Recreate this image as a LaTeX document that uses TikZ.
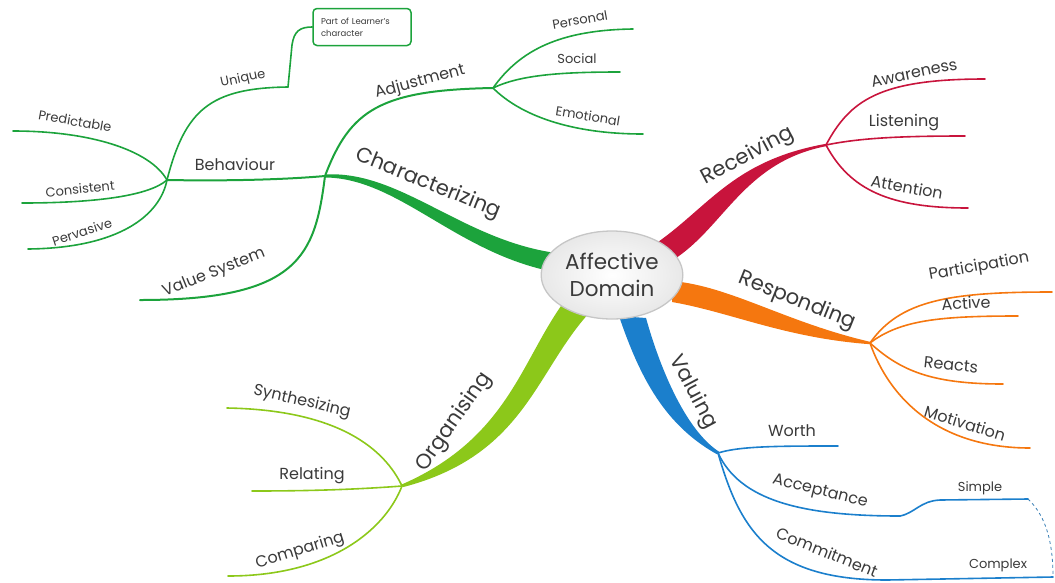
\documentclass[tikz,border=0pt]{standalone}
\usepackage{fontspec}
\setmainfont{Poppins}
\usetikzlibrary{shapes.geometric,calc}
\definecolor{cgreen}{HTML}{1CA33C}
\definecolor{cred}{HTML}{C8143C}
\definecolor{corange}{HTML}{F5770F}
\definecolor{cblue}{HTML}{1B7FCC}
\definecolor{clime}{HTML}{8CC81A}
\definecolor{ctext}{HTML}{3A3A3A}
\begin{document}
\begin{tikzpicture}[x=1pt,y=-1pt,
 big/.style={text=ctext, font=\fontsize{21}{25}\selectfont, inner sep=0pt},
 mid/.style={text=ctext, font=\fontsize{16}{19}\selectfont, inner sep=0pt},
 small/.style={text=ctext, font=\fontsize{13}{15}\selectfont, inner sep=0pt},
 sub/.style={line width=2pt, line cap=round},
 leaf/.style={line width=1.6pt, line cap=round},
]
\useasboundingbox (0,0) rectangle (1055,582);
% hubs
\coordinate (hc) at (325,176);
\coordinate (hb) at (167,180);
\coordinate (ha) at (493,88);
\coordinate (hr) at (826,145);
\coordinate (hp) at (870,343);
\coordinate (hv) at (718,453);
\coordinate (ho) at (402,486);
% leaf ends
\coordinate (lpred) at (13,131);
\coordinate (lcons) at (22,203);
\coordinate (lperv) at (28,249);
\coordinate (luniq) at (288,87);
\coordinate (lvs) at (140,300);
\coordinate (lpers) at (633,29);
\coordinate (lsoc) at (620,72);
\coordinate (lemo) at (643,134);
\coordinate (lawa) at (985,79);
\coordinate (llis) at (965,136);
\coordinate (latt) at (968,208);
\coordinate (lpart) at (1052,292);
\coordinate (lact) at (1018,316);
\coordinate (lreac) at (1003,384);
\coordinate (lmot) at (1030,448);
\coordinate (lworth) at (838,446);
\coordinate (lacc) at (900,516);
\coordinate (lsimp) at (1028,499);
\coordinate (lcomm) at (887,580);
\coordinate (lcmpx) at (1053,577);
\coordinate (lsyn) at (227,408);
\coordinate (lrel) at (252,491);
\coordinate (lcmp) at (228,576);

% ---- thick main branches ----
\fill[cgreen] ($(hc)+(0,-1.5)$) .. controls (400,170) and (462,240) .. (556,253) -- (560,273) .. controls (458,256) and (400,178) .. ($(hc)+(0,1.5)$) -- cycle;
\fill[cred] (658,242) .. controls (710,205) and (735,160) .. ($(hr)+(0,-1.2)$) -- ($(hr)+(0,1.2)$) .. controls (745,162) and (725,225) .. (676,258) -- cycle;
\fill[corange] (672,281) .. controls (730,286) and (785,322) .. ($(hp)+(0,-1.2)$) -- ($(hp)+(0,1.2)$) .. controls (785,338) and (730,312) .. (672,302) -- cycle;
\fill[cblue] (619,316) .. controls (640,378) and (665,425) .. ($(hv)+(-1.5,1)$) -- ($(hv)+(1.5,-1)$) .. controls (688,432) and (662,375) .. (646,318) -- cycle;
\fill[clime] (561,306) .. controls (520,365) and (505,440) .. ($(ho)+(-1.5,-1)$) -- ($(ho)+(1.5,1)$) .. controls (525,455) and (535,372) .. (590,312) -- cycle;

% ---- characterizing sub-branches ----
\begin{scope}[draw=cgreen]
\draw[sub] (hc) .. controls (280,180) and (220,181) .. (hb);
\draw[sub] (hc) .. controls (350,110) and (380,90) .. (ha);
\draw[sub] (hc) .. controls (315,255) and (300,300) .. (lvs);
\draw[leaf] (hb) .. controls (150,150) and (90,131) .. (lpred);
\draw[leaf] (hb) .. controls (150,195) and (100,203) .. (lcons);
\draw[leaf] (hb) .. controls (160,215) and (120,248) .. (lperv);
\draw[leaf] (hb) .. controls (185,110) and (210,88) .. (luniq);
\draw[leaf] (ha) .. controls (520,50) and (560,30) .. (lpers);
\draw[leaf] (ha) .. controls (520,75) and (560,72) .. (lsoc);
\draw[leaf] (ha) .. controls (520,115) and (570,134) .. (lemo);
\end{scope}
\node[draw=cgreen, line width=1.5pt, rounded corners=4pt, minimum width=98pt, minimum height=37pt,
  text width=82pt, inner xsep=8pt, align=left, text=ctext, font=\fontsize{8.5}{12}\selectfont] (box) at (362,27) {Part of Learner's\\character};
\draw[leaf, cgreen] (luniq) -- (292,45) .. controls (294,31) and (300,27) .. (box.west);

% ---- receiving ----
\draw[leaf, cred] (hr) .. controls (850,100) and (880,79) .. (lawa);
\draw[leaf, cred] (hr) .. controls (860,138) and (900,136) .. (llis);
\draw[leaf, cred] (hr) .. controls (850,190) and (890,208) .. (latt);

% ---- responding ----
\draw[leaf, corange] (hp) .. controls (900,300) and (950,292) .. (lpart);
\draw[leaf, corange] (hp) .. controls (900,320) and (940,316) .. (lact);
\draw[leaf, corange] (hp) .. controls (900,370) and (930,384) .. (lreac);
\draw[leaf, corange] (hp) .. controls (890,400) and (940,448) .. (lmot);

% ---- valuing ----
\draw[leaf, cblue] (hv) .. controls (740,446) and (780,446) .. (lworth);
\draw[leaf, cblue] (hv) .. controls (740,500) and (800,516) .. (lacc);
\draw[leaf, cblue] (lacc) .. controls (915,513) and (920,501) .. (940,500) -- (lsimp);
\draw[leaf, cblue] (hv) .. controls (740,530) and (770,580) .. (lcomm) -- (lcmpx);
\draw[cblue!70!gray, line width=0.8pt, dashed] (lsimp) .. controls (1045,515) and (1053,540) .. (lcmpx);

% ---- organising ----
\draw[leaf, clime] (ho) .. controls (385,450) and (340,410) .. (lsyn);
\draw[leaf, clime] (ho) .. controls (350,490) and (300,491) .. (lrel);
\draw[leaf, clime] (ho) .. controls (385,530) and (330,576) .. (lcmp);

% ---- centre ----
\node[ellipse, draw=gray!45, line width=1.3pt, inner color=white, outer color=gray!18,
  minimum width=132pt, minimum height=88pt, align=center, text=ctext,
  font=\fontsize{21.5}{27}\selectfont] (c) at (612,275) {Affective\\Domain};

% ---- labels ----
\node[big, rotate=-22] (tchar) at (428,184) {Characterizing};
\node[big, rotate=28] (trec) at (748,156) {Receiving};
\node[big, rotate=-22] (tresp) at (797,301) {Responding};
\node[big, rotate=-62] (tval) at (693,392) {Valuing};
\node[big, rotate=55] (torg) at (454,422) {Organising};

\node[mid] (tbeh) at (235,164) {Behaviour};
\node[mid, rotate=15] (tadj) at (420,82) {Adjustment};
\node[mid, rotate=22] (tvs) at (214,273) {Value System};
\node[mid, rotate=12] (tawa) at (914,73) {Awareness};
\node[mid] (tlis) at (904,123) {Listening};
\node[mid, rotate=-10] (tatt) at (907,187) {Attention};
\node[mid, rotate=10] (tpart) at (979,267) {Participation};
\node[mid, rotate=3] (tact) at (966,303) {Active};
\node[mid, rotate=-6] (treac) at (951,365) {Reacts};
\node[mid, rotate=-17] (tmot) at (965,423) {Motivation};
\node[mid] (tworth) at (792,431) {Worth};
\node[mid, rotate=-14] (tacc) at (820,492) {Acceptance};
\node[mid, rotate=-22] (tcomm) at (827,552) {Commitment};
\node[mid, rotate=-13] (tsyn) at (302,402) {Synthesizing};
\node[mid] (trel) at (312,476) {Relating};
\node[mid, rotate=17] (tcmp) at (300,551) {Comparing};

\node[small, rotate=12] (tuniq) at (243,79) {Unique};
\node[small, rotate=-10] (tpred) at (75,121) {Predictable};
\node[small, rotate=6] (tcons) at (80,189) {Consistent};
\node[small, rotate=18] (tperv) at (82,232) {Pervasive};
\node[small, rotate=10] (tpers) at (580,20) {Personal};
\node[small] (tsoc) at (577,59) {Social};
\node[small, rotate=-9] (temo) at (588,116) {Emotional};
\node[small] (tsimp) at (980,488) {Simple};
\node[small] (tcmpx) at (998,565) {Complex};
\end{tikzpicture}
\end{document}
